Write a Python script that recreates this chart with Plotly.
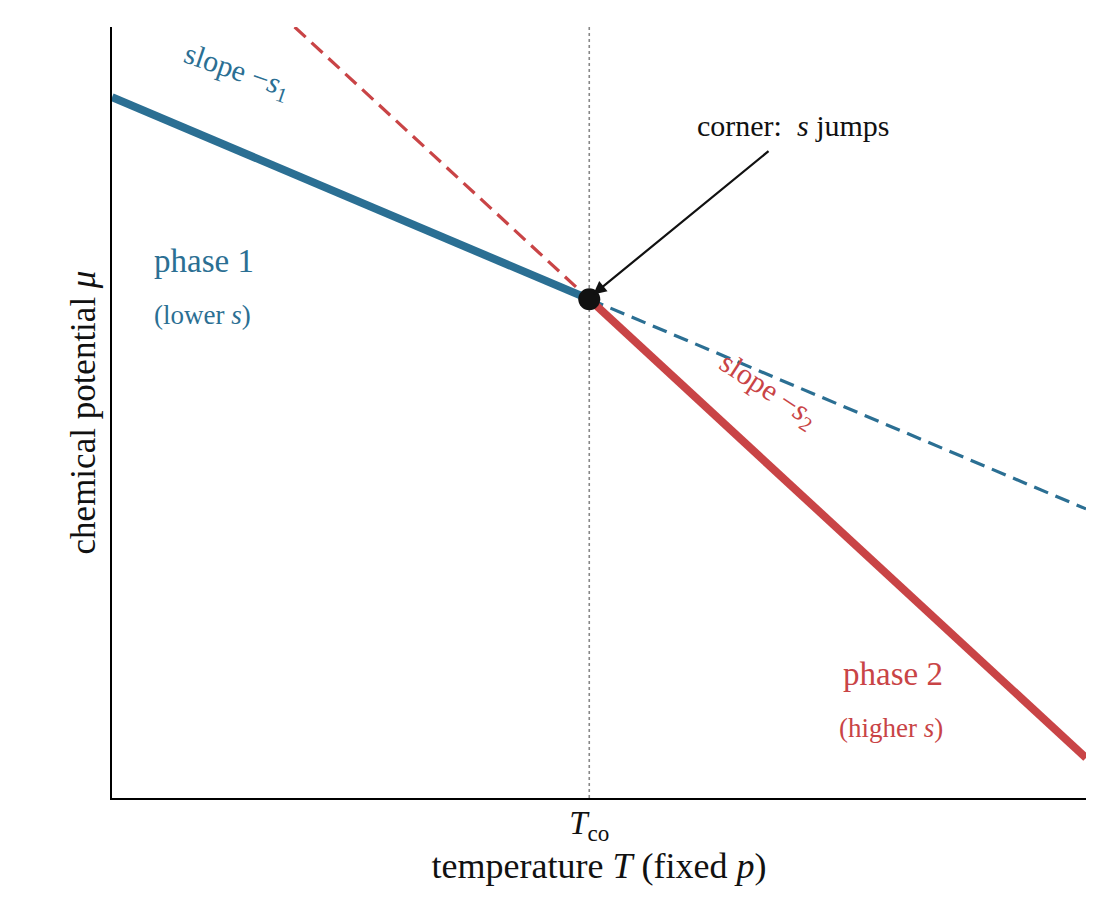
import plotly.graph_objects as go

# ---- data ----
T_CO = 0.49
MU_CO = 0.647

T_phase1_solid = [0.0, T_CO]
mu_phase1_solid = [0.909, MU_CO]
T_phase1_dash = [T_CO, 1.0]
mu_phase1_dash = [MU_CO, 0.375]

T_phase2_solid = [T_CO, 1.0]
mu_phase2_solid = [MU_CO, 0.052]
T_phase2_dash = [0.1875, T_CO]
mu_phase2_dash = [1.0, MU_CO]

x_tick_vals = [T_CO]
x_tick_text = ["<i>T</i><sub>co</sub>"]

BLUE = "#2b6f93"
RED = "#c94446"
FONT = "Liberation Serif"

fig = go.Figure()

fig.add_trace(go.Scatter(x=T_phase2_dash, y=mu_phase2_dash, mode="lines",
                         line=dict(color=RED, width=3.2, dash="15px,8px"), hoverinfo="skip"))
fig.add_trace(go.Scatter(x=T_phase1_dash, y=mu_phase1_dash, mode="lines",
                         line=dict(color=BLUE, width=3.2, dash="15px,8px"), hoverinfo="skip"))
fig.add_trace(go.Scatter(x=T_phase1_solid, y=mu_phase1_solid, mode="lines",
                         line=dict(color=BLUE, width=8), hoverinfo="skip"))
fig.add_trace(go.Scatter(x=T_phase2_solid, y=mu_phase2_solid, mode="lines",
                         line=dict(color=RED, width=8), hoverinfo="skip"))
fig.add_trace(go.Scatter(x=[T_CO], y=[MU_CO], mode="markers",
                         marker=dict(color="#111111", size=22), hoverinfo="skip"))

# vertical dotted line at T_co
fig.add_vline(x=T_CO, line=dict(color="#888888", width=1.6, dash="dot"), layer="below")

ann = []
def txt(x, y, s, color, size, angle=0):
    ann.append(dict(x=x, y=y, xref="x", yref="y", text=s, showarrow=False,
                    font=dict(family=FONT, size=size, color=color), textangle=angle,
                    xanchor="center", yanchor="middle"))

txt(0.128, 0.942, "slope −<i>s</i><sub>1</sub>", BLUE, 30, 19)
txt(0.0945, 0.6965, "phase 1", BLUE, 33)
txt(0.0934, 0.6265, "(lower <i>s</i>)", BLUE, 27)
txt(0.802, 0.161, "phase 2", RED, 33)
txt(0.800, 0.091, "(higher <i>s</i>)", RED, 27)
txt(0.6735, 0.528, "slope −<i>s</i><sub>2</sub>", RED, 30, 33)
txt(0.700, 0.872, "corner:  <i>s</i> jumps", "#111111", 30)

ann.append(dict(x=T_CO + 0.004, y=MU_CO + 0.006, xref="x", yref="y",
                ax=0.6756, ay=0.8405, axref="x", ayref="y", text="",
                showarrow=True, arrowhead=2, arrowsize=1.2, arrowwidth=2.2,
                arrowcolor="#111111"))

fig.update_layout(
    width=1120, height=918,
    margin=dict(l=104, r=42, t=19, b=128),
    paper_bgcolor="white", plot_bgcolor="white",
    showlegend=False,
    annotations=ann,
    font=dict(family=FONT, color="#111111"),
    xaxis=dict(range=[0, 1], showgrid=False, zeroline=False,
               showline=True, linecolor="black", linewidth=2, mirror=False,
               tickvals=x_tick_vals, ticktext=x_tick_text, ticks="",
               ticklabelstandoff=-6,
               tickfont=dict(family=FONT, size=33, color="#111111"),
               title=dict(text="temperature <i>T</i> (fixed <i>p</i>)",
                          font=dict(family=FONT, size=36, color="#111111"), standoff=2)),
    yaxis=dict(range=[0, 1], showgrid=False, zeroline=False,
               showline=True, linecolor="black", linewidth=2,
               showticklabels=False, ticks="",
               title=dict(text="chemical potential <i>μ</i>",
                          font=dict(family=FONT, size=35, color="#111111"), standoff=4)),
)

fig.write_html("out.html")
